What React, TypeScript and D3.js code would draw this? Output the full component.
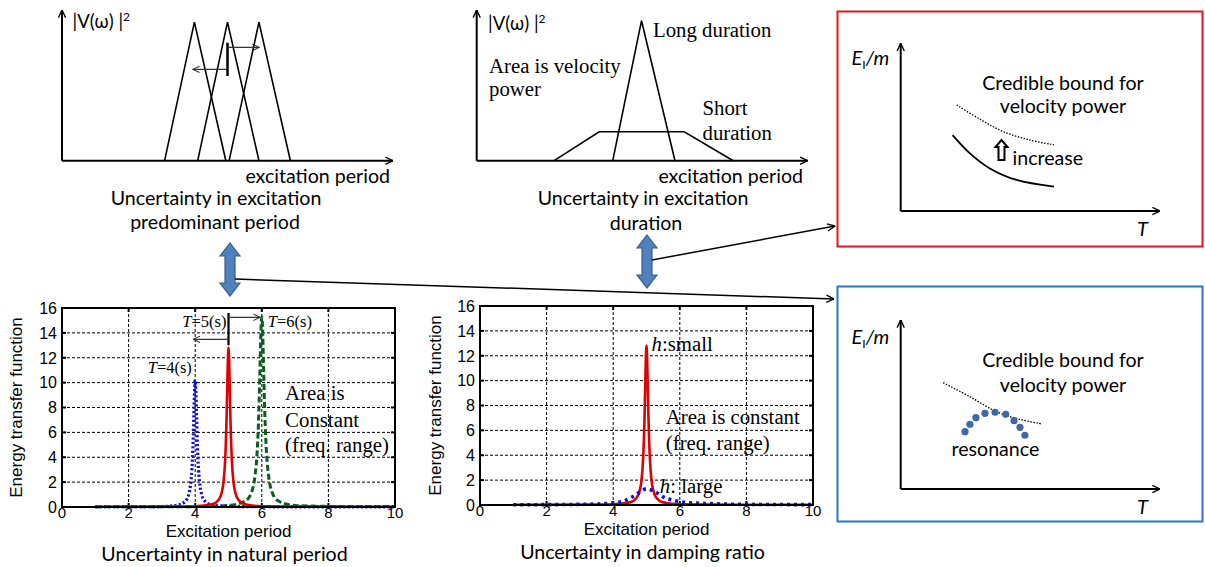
import React from 'react';
import * as d3 from 'd3';

// ---------- data ----------
const periodTicks = [0, 2, 4, 6, 8, 10];
const energyTicks = [0, 2, 4, 6, 8, 10, 12, 14, 16];

// Uncertainty in natural period
const natT4: [number, number][] = [
  [1, 0.02], [2, 0.02], [3, 0.04], [3.5, 0.17], [3.7, 0.45], [3.8, 0.95], [3.85, 1.6], [3.9, 3.0],
  [3.92, 4.0], [3.94, 5.5], [3.96, 7.4], [3.98, 9.3], [4, 10.2], [4.02, 9.3], [4.04, 7.4], [4.06, 5.5],
  [4.08, 4.0], [4.1, 3.0], [4.15, 1.6], [4.2, 0.95], [4.3, 0.45], [4.5, 0.17], [5, 0.05], [6, 0.02],
  [8, 0.01], [10, 0.01],
];
const natT5: [number, number][] = [
  [1, 0.02], [3, 0.03], [4, 0.06], [4.5, 0.21], [4.7, 0.57], [4.8, 1.2], [4.85, 2.0], [4.9, 3.8],
  [4.92, 5.1], [4.94, 6.9], [4.96, 9.3], [4.98, 11.7], [5, 12.8], [5.02, 11.7], [5.04, 9.3], [5.06, 6.9],
  [5.08, 5.1], [5.1, 3.8], [5.15, 2.0], [5.2, 1.2], [5.3, 0.57], [5.5, 0.21], [6, 0.05], [7, 0.03],
  [8, 0.02], [10, 0.02],
];
const natT6: [number, number][] = [
  [1, 0.01], [3, 0.02], [4, 0.03], [5, 0.12], [5.5, 0.48], [5.7, 1.25], [5.8, 2.6], [5.85, 4.0],
  [5.9, 6.8], [5.92, 8.5], [5.94, 10.6], [5.96, 12.8], [5.98, 14.6], [6, 15.3], [6.02, 14.6], [6.04, 12.8],
  [6.06, 10.6], [6.08, 8.5], [6.1, 6.8], [6.15, 4.0], [6.2, 2.6], [6.3, 1.25], [6.5, 0.48], [7, 0.12],
  [8, 0.05], [10, 0.03],
];

// Uncertainty in damping ratio
const dampSmall: [number, number][] = [
  [1, 0.02], [3, 0.03], [4, 0.06], [4.5, 0.21], [4.7, 0.57], [4.8, 1.2], [4.85, 2.0], [4.9, 3.8],
  [4.92, 5.1], [4.94, 6.9], [4.96, 9.3], [4.98, 11.7], [5, 12.8], [5.02, 11.7], [5.04, 9.3], [5.06, 6.9],
  [5.08, 5.1], [5.1, 3.8], [5.15, 2.0], [5.2, 1.2], [5.3, 0.57], [5.5, 0.21], [6, 0.05], [7, 0.03],
  [8, 0.02], [10, 0.02],
];
const dampLarge: [number, number][] = [
  [1, 0.02], [3, 0.05], [3.5, 0.08], [4, 0.17], [4.3, 0.3], [4.5, 0.55], [4.7, 0.85], [4.85, 1.15],
  [5, 1.3], [5.15, 1.2], [5.3, 1.0], [5.5, 0.65], [5.8, 0.38], [6, 0.27], [6.5, 0.15], [7, 0.1],
  [8, 0.05], [10, 0.03],
];

// Sketch: excitation predominant period (triangles: start, peak, end)
const shiftTriangles: [number, number, number][] = [
  [3.1, 4.0, 4.95],
  [4.1, 5.0, 5.95],
  [5.05, 5.95, 6.9],
];
const trianglePeak = 9.2;

// Sketch: excitation duration
const longDuration: [number, number][] = [[4.11, 0], [4.98, 9.29], [5.99, 0]];
const shortDuration: [number, number][] = [[2.34, 0], [3.7, 1.92], [6.27, 1.92], [7.75, 0]];

// Sketch: credible bound (red box)
const boundUpper: [number, number][] = [[2.16, 6.32], [3.06, 5.47], [3.96, 4.73], [4.99, 4.23], [5.91, 3.94]];
const boundLower: [number, number][] = [[2.0, 4.53], [2.67, 3.44], [3.44, 2.54], [4.47, 1.85], [5.91, 1.45]];

// Sketch: resonance (blue box)
const boundResonance: [number, number][] = [[1.64, 6.29], [2.67, 5.46], [3.7, 4.57], [4.6, 4.12], [5.44, 3.85]];
const resonancePts: [number, number][] = [
  [2.48, 3.39], [2.67, 3.83], [2.9, 4.22], [3.25, 4.48], [3.64, 4.54],
  [4.05, 4.42], [4.37, 4.04], [4.6, 3.65], [4.79, 3.18],
];

// ---------- styles ----------
const SANS = "Lato, 'Open Sans', sans-serif";
const ARIAL = "'Liberation Sans', Arial, sans-serif";
const SERIF = "'Liberation Serif', 'Times New Roman', serif";
const SF = 19.6; // caption size (sans)
const RF = 20.8; // annotation size (serif)

type Series = { data: [number, number][]; color: string; width: number; dash?: string };

function ETFChart(props: {
  x0: number; x1: number; y0: number; y1: number;
  series: Series[];
  children?: (x: d3.ScaleLinear<number, number>, y: d3.ScaleLinear<number, number>) => React.ReactNode;
  xTitle: string; caption: string; yTitleX: number;
}) {
  const { x0, x1, y0, y1, series } = props;
  const x = d3.scaleLinear().domain([0, 10]).range([x0, x1]);
  const y = d3.scaleLinear().domain([0, 16]).range([y1, y0]);
  const line = d3.line<[number, number]>().x(d => x(d[0])).y(d => y(d[1])).curve(d3.curveMonotoneX);
  const cx = (x0 + x1) / 2;
  return (
    <g>
      {periodTicks.slice(1, -1).map(t => (
        <line key={'gx' + t} x1={x(t)} x2={x(t)} y1={y1} y2={y0} stroke="#000" strokeWidth={1} strokeDasharray="3,2" />
      ))}
      {energyTicks.slice(1, -1).map(t => (
        <line key={'gy' + t} x1={x0} x2={x1} y1={y(t)} y2={y(t)} stroke="#000" strokeWidth={1} strokeDasharray="3,2" />
      ))}
      {periodTicks.map(t => (
        <g key={'tx' + t}>
          <line x1={x(t)} x2={x(t)} y1={y0} y2={y0 + 4} stroke="#000" strokeWidth={2} />
          <line x1={x(t)} x2={x(t)} y1={y1} y2={y1 - 4} stroke="#000" strokeWidth={2} />
          <text x={x(t)} y={y1 + 11} textAnchor="middle" fontFamily={ARIAL} fontSize={15}>{t}</text>
        </g>
      ))}
      {energyTicks.map(t => (
        <g key={'ty' + t}>
          <line x1={x0} x2={x0 + 4} y1={y(t)} y2={y(t)} stroke="#000" strokeWidth={2} />
          <line x1={x1} x2={x1 - 4} y1={y(t)} y2={y(t)} stroke="#000" strokeWidth={2} />
          <text x={x0 - 5} y={y(t)} dy="0.36em" textAnchor="end" fontFamily={ARIAL} fontSize={16}>{t}</text>
        </g>
      ))}
      {series.map((s, i) => (
        <path key={i} d={line(s.data) || ''} fill="none" stroke={s.color} strokeWidth={s.width}
          strokeDasharray={s.dash} strokeLinejoin="round" />
      ))}
      <rect x={x0} y={y0} width={x1 - x0} height={y1 - y0} fill="none" stroke="#000" strokeWidth={2} />
      {props.children && props.children(x, y)}
      <text transform={`translate(${props.yTitleX},${(y0 + y1) / 2}) rotate(-90)`} textAnchor="middle"
        fontFamily={ARIAL} fontSize={17}>Energy transfer function</text>
      <text x={cx} y={y1 + 30} textAnchor="middle" fontFamily={ARIAL} fontSize={17}>{props.xTitle}</text>
      <text x={cx - 4} y={y1 + 54} textAnchor="middle" fontFamily={SANS} fontSize={SF}>{props.caption}</text>
    </g>
  );
}

function BlockDoubleArrow({ cx, top, bottom }: { cx: number; top: number; bottom: number }) {
  const hw = 10, sw = 5, hh = 13;
  const d = `M${cx},${top} L${cx + hw},${top + hh} L${cx + sw},${top + hh} L${cx + sw},${bottom - hh} L${cx + hw},${bottom - hh} L${cx},${bottom} L${cx - hw},${bottom - hh} L${cx - sw},${bottom - hh} L${cx - sw},${top + hh} L${cx - hw},${top + hh} Z`;
  return <path d={d} fill="#4F81BD" stroke="#385D8A" strokeWidth={1.2} />;
}

export default function App() {
  // top-left sketch
  const sx1 = d3.scaleLinear().domain([0, 10]).range([62, 393]);
  const sy = d3.scaleLinear().domain([0, 10]).range([160.7, 10]);
  // top-middle sketch
  const sx2 = d3.scaleLinear().domain([0, 10]).range([476.7, 807.7]);
  // right boxes
  const rx = d3.scaleLinear().domain([0, 10]).range([900.7, 1160]);
  const ry1 = d3.scaleLinear().domain([0, 10]).range([211, 43.3]);
  const ry2 = d3.scaleLinear().domain([0, 10]).range([489, 320]);

  const pline = (xs: d3.ScaleLinear<number, number>, ys: d3.ScaleLinear<number, number>) =>
    d3.line<[number, number]>().x(d => xs(d[0])).y(d => ys(d[1]));
  const smooth = (xs: d3.ScaleLinear<number, number>, ys: d3.ScaleLinear<number, number>) =>
    d3.line<[number, number]>().x(d => xs(d[0])).y(d => ys(d[1])).curve(d3.curveCatmullRom);

  const ElabelR = (y: number) => (
    <text x={851.5} y={y} fontFamily={SANS} fontSize={20} fontStyle="italic">
      E<tspan dy={4} fontSize={12} fontStyle="normal">I</tspan><tspan dy={-4}>/m</tspan>
    </text>
  );

  return (
    <svg width={1205} height={567} style={{ position: 'absolute', left: 0, top: 0, background: '#fff' }}>
      <defs>
        <marker id="open" viewBox="0 0 10 10" refX={9.5} refY={5} markerWidth={9} markerHeight={9}
          markerUnits="userSpaceOnUse" orient="auto">
          <path d="M1,1 L9.5,5 L1,9" fill="none" stroke="#000" strokeWidth={1.5} />
        </marker>
        <marker id="openS" viewBox="0 0 10 10" refX={9.5} refY={5} markerWidth={8} markerHeight={8}
          markerUnits="userSpaceOnUse" orient="auto">
          <path d="M1,1 L9.5,5 L1,9" fill="none" stroke="#333" strokeWidth={1.3} />
        </marker>
      </defs>

      {/* ---------- top-left sketch ---------- */}
      <g>
        <line x1={sx1(0)} y1={sy(0)} x2={sx1(10)} y2={sy(0)} stroke="#000" strokeWidth={2} markerEnd="url(#open)" />
        <line x1={sx1(0)} y1={sy(0)} x2={sx1(0)} y2={sy(10)} stroke="#000" strokeWidth={2} markerEnd="url(#open)" />
        {shiftTriangles.map((t, i) => (
          <path key={i} d={pline(sx1, sy)([[t[0], 0], [t[1], trianglePeak], [t[2], 0]]) || ''}
            fill="none" stroke="#000" strokeWidth={1.6} />
        ))}
        <line x1={sx1(5)} x2={sx1(5)} y1={sy(7.83)} y2={sy(5.62)} stroke="#000" strokeWidth={2.5} />
        <line x1={sx1(5)} x2={sx1(5.96)} y1={sy(7.52)} y2={sy(7.52)} stroke="#333" strokeWidth={1.1} markerEnd="url(#openS)" />
        <line x1={sx1(5)} x2={sx1(3.95)} y1={sy(6.06)} y2={sy(6.06)} stroke="#333" strokeWidth={1.1} markerEnd="url(#openS)" />
        <text x={72.5} y={28} fontFamily={SANS} fontSize={18.5}>|V(ω) |<tspan dy={-7} fontSize={12}>2</tspan></text>
        <text x={390} y={183} textAnchor="end" fontFamily={SANS} fontSize={SF}>excitation period</text>
        <text x={216} y={205} textAnchor="middle" fontFamily={SANS} fontSize={SF}>Uncertainty in excitation</text>
        <text x={215} y={229} textAnchor="middle" fontFamily={SANS} fontSize={SF}>predominant period</text>
      </g>

      {/* ---------- top-middle sketch ---------- */}
      <g>
        <line x1={sx2(0)} y1={sy(0)} x2={sx2(10)} y2={sy(0)} stroke="#000" strokeWidth={2} markerEnd="url(#open)" />
        <line x1={sx2(0)} y1={sy(0)} x2={sx2(0)} y2={sy(10)} stroke="#000" strokeWidth={2} markerEnd="url(#open)" />
        <path d={pline(sx2, sy)(longDuration) || ''} fill="none" stroke="#000" strokeWidth={1.6} />
        <path d={pline(sx2, sy)(shortDuration) || ''} fill="none" stroke="#000" strokeWidth={1.6} />
        <text x={488} y={30} fontFamily={SANS} fontSize={18.5}>|V(ω) |<tspan dy={-7} fontSize={12}>2</tspan></text>
        <text x={653} y={37} fontFamily={SERIF} fontSize={RF}>Long duration</text>
        <text x={489} y={73} fontFamily={SERIF} fontSize={RF}>Area is velocity</text>
        <text x={489} y={96} fontFamily={SERIF} fontSize={RF}>power</text>
        <text x={702.5} y={115} fontFamily={SERIF} fontSize={RF}>Short</text>
        <text x={702.5} y={140} fontFamily={SERIF} fontSize={RF}>duration</text>
        <text x={803} y={183} textAnchor="end" fontFamily={SANS} fontSize={SF}>excitation period</text>
        <text x={643} y={205} textAnchor="middle" fontFamily={SANS} fontSize={SF}>Uncertainty in excitation</text>
        <text x={646} y={230} textAnchor="middle" fontFamily={SANS} fontSize={SF}>duration</text>
      </g>

      {/* ---------- red box ---------- */}
      <g>
        <rect x={837.5} y={11.5} width={365} height={235} fill="none" stroke="#E8141B" strokeWidth={2} />
        <line x1={rx(0)} y1={ry1(0)} x2={rx(10)} y2={ry1(0)} stroke="#000" strokeWidth={2} markerEnd="url(#open)" />
        <line x1={rx(0)} y1={ry1(0)} x2={rx(0)} y2={ry1(10)} stroke="#000" strokeWidth={2} markerEnd="url(#open)" />
        {ElabelR(65)}
        <text x={1137} y={236} fontFamily={SANS} fontSize={20} fontStyle="italic">T</text>
        <text x={1063} y={90} textAnchor="middle" fontFamily={SANS} fontSize={SF}>Credible bound for</text>
        <text x={1063} y={113} textAnchor="middle" fontFamily={SANS} fontSize={SF}>velocity power</text>
        <path d={smooth(rx, ry1)(boundUpper) || ''} fill="none" stroke="#000" strokeWidth={1.3} strokeDasharray="1.5,1.5" />
        <path d={smooth(rx, ry1)(boundLower) || ''} fill="none" stroke="#000" strokeWidth={1.8} />
        <path d="M1001.5,140 L1007.5,147 L1004.5,147 L1004.5,160 L998.5,160 L998.5,147 L995.5,147 Z"
          fill="#fff" stroke="#000" strokeWidth={2} strokeLinejoin="miter" />
        <text x={1012.5} y={165} fontFamily={SANS} fontSize={SF}>increase</text>
      </g>

      {/* ---------- blue box ---------- */}
      <g>
        <rect x={837.5} y={286.5} width={365} height={235} fill="none" stroke="#1F7BC8" strokeWidth={2} />
        <line x1={rx(0)} y1={ry2(0)} x2={rx(10)} y2={ry2(0)} stroke="#000" strokeWidth={2} markerEnd="url(#open)" />
        <line x1={rx(0)} y1={ry2(0)} x2={rx(0)} y2={ry2(10)} stroke="#000" strokeWidth={2} markerEnd="url(#open)" />
        {ElabelR(344)}
        <text x={1137} y={514} fontFamily={SANS} fontSize={20} fontStyle="italic">T</text>
        <text x={1063} y={367} textAnchor="middle" fontFamily={SANS} fontSize={SF}>Credible bound for</text>
        <text x={1063} y={392} textAnchor="middle" fontFamily={SANS} fontSize={SF}>velocity power</text>
        <path d={smooth(rx, ry2)(boundResonance) || ''} fill="none" stroke="#000" strokeWidth={1.3} strokeDasharray="1.5,1.5" />
        {resonancePts.map((p, i) => (
          <circle key={i} cx={rx(p[0])} cy={ry2(p[1])} r={3.6} fill="#3E68A6" />
        ))}
        <text x={951.5} y={456} fontFamily={SANS} fontSize={SF}>resonance</text>
      </g>

      {/* ---------- connectors ---------- */}
      <BlockDoubleArrow cx={230} top={243} bottom={296} />
      <BlockDoubleArrow cx={647} top={235} bottom={288} />
      <line x1={235} y1={279} x2={834} y2={299} stroke="#000" strokeWidth={1.5} markerEnd="url(#open)" />
      <line x1={652} y1={260} x2={835} y2={226} stroke="#000" strokeWidth={1.5} markerEnd="url(#open)" />

      {/* ---------- bottom charts ---------- */}
      <ETFChart x0={62} x1={395} y0={308} y1={507} yTitleX={22}
        xTitle="Excitation period" caption="Uncertainty in natural period"
        series={[
          { data: natT6, color: '#0B5F1E', width: 3, dash: '6,3' },
          { data: natT4, color: '#1010D8', width: 3.2, dash: '2.2,2.2' },
          { data: natT5, color: '#E00000', width: 2.6 },
        ]}>
        {(x, y) => (
          <g>
            <line x1={x(5)} x2={x(5)} y1={y(15.6)} y2={y(13.0)} stroke="#000" strokeWidth={2.2} />
            <line x1={x(5)} x2={x(5.95)} y1={y(15.25)} y2={y(15.25)} stroke="#333" strokeWidth={1.1} markerEnd="url(#openS)" />
            <line x1={x(5)} x2={x(3.94)} y1={y(13.48)} y2={y(13.48)} stroke="#333" strokeWidth={1.1} markerEnd="url(#openS)" />
            <text x={x(3.9)} y={y(10.8)} textAnchor="end" fontFamily={SERIF} fontSize={16.5}><tspan fontStyle="italic">T</tspan>=4(s)</text>
            <text x={x(4.94)} y={y(14.45)} textAnchor="end" fontFamily={SERIF} fontSize={16.5}><tspan fontStyle="italic">T</tspan>=5(s)</text>
            <text x={x(6.18)} y={y(14.45)} fontFamily={SERIF} fontSize={16.5}><tspan fontStyle="italic">T</tspan>=6(s)</text>
            <text x={x(6.7)} y={y(8.6)} fontFamily={SERIF} fontSize={RF}>Area is</text>
            <text x={x(6.7)} y={y(6.45)} fontFamily={SERIF} fontSize={RF}>Constant</text>
            <text x={x(6.7)} y={y(4.4)} fontFamily={SERIF} fontSize={RF}>(freq. range)</text>
          </g>
        )}
      </ETFChart>

      <ETFChart x0={480} x1={813} y0={306} y1={505} yTitleX={441}
        xTitle="Excitation period" caption="Uncertainty in damping ratio"
        series={[
          { data: dampSmall, color: '#E00000', width: 2.6 },
          { data: dampLarge, color: '#1010D8', width: 3.6, dash: '3,4' },
        ]}>
        {(x, y) => (
          <g>
            <text x={x(5.15)} y={y(12.4)} fontFamily={SERIF} fontSize={RF}><tspan fontStyle="italic">h</tspan>:small</text>
            <text x={x(5.58)} y={y(6.55)} fontFamily={SERIF} fontSize={RF}>Area is constant</text>
            <text x={x(5.58)} y={y(4.4)} fontFamily={SERIF} fontSize={RF}>(freq. range)</text>
            <text x={x(5.4)} y={y(0.98)} fontFamily={SERIF} fontSize={RF}><tspan fontStyle="italic">h</tspan>: large</text>
          </g>
        )}
      </ETFChart>
    </svg>
  );
}
